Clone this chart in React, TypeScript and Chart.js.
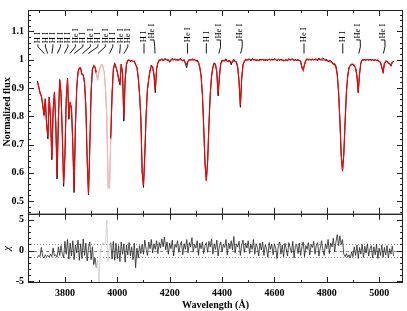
import React, { useEffect, useRef } from 'react';
import { Chart, registerables } from 'chart.js';
Chart.register(...registerables);

// Wavelength grid (Å)
const wave: number[] = [
  3695,3700,3705,3710,3715,3720,3725,3730,3735,3740,
  3745,3750,3755,3760,3765,3770,3775,3780,3785,3790,
  3795,3800,3805,3810,3815,3820,3825,3830,3835,3840,
  3845,3850,3855,3860,3865,3870,3875,3880,3885,3890,
  3895,3900,3905,3910,3915,3920,3925,3930,3935,3940,
  3945,3950,3955,3960,3965,3970,3975,3980,3985,3990,
  3995,4000,4005,4010,4015,4020,4025,4030,4035,4040,
  4045,4050,4055,4060,4065,4070,4075,4080,4085,4090,
  4095,4100,4105,4110,4115,4120,4125,4130,4135,4140,
  4145,4150,4155,4160,4165,4170,4175,4180,4185,4190,
  4195,4200,4205,4210,4215,4220,4225,4230,4235,4240,
  4245,4250,4255,4260,4265,4270,4275,4280,4285,4290,
  4295,4300,4305,4310,4315,4320,4325,4330,4335,4340,
  4345,4350,4355,4360,4365,4370,4375,4380,4385,4390,
  4395,4400,4405,4410,4415,4420,4425,4430,4435,4440,
  4445,4450,4455,4460,4465,4470,4475,4480,4485,4490,
  4495,4500,4505,4510,4515,4520,4525,4530,4535,4540,
  4545,4550,4555,4560,4565,4570,4575,4580,4585,4590,
  4595,4600,4605,4610,4615,4620,4625,4630,4635,4640,
  4645,4650,4655,4660,4665,4670,4675,4680,4685,4690,
  4695,4700,4705,4710,4715,4720,4725,4730,4735,4740,
  4745,4750,4755,4760,4765,4770,4775,4780,4785,4790,
  4795,4800,4805,4810,4815,4820,4825,4830,4835,4840,
  4845,4850,4855,4860,4865,4870,4875,4880,4885,4890,
  4895,4900,4905,4910,4915,4920,4925,4930,4935,4940,
  4945,4950,4955,4960,4965,4970,4975,4980,4985,4990,
  4995,5000,5005,5010,5015,5020,5025,5030,5035,5040,
  5045,5050,5055,
];

// Model (red) normalized flux
const modelFlux: number[] = [
  0.922,0.905,0.885,0.870,0.845,0.807,0.860,0.775,0.728,0.866,
  0.800,0.652,0.820,0.887,0.780,0.590,0.790,0.928,0.885,0.740,
  0.562,0.660,0.860,0.933,0.795,0.845,0.830,0.700,0.538,0.760,
  0.900,0.955,0.972,0.968,0.950,0.945,0.920,0.830,0.650,0.525,
  0.690,0.890,0.965,0.980,0.975,0.955,0.935,0.955,0.975,0.982,
  0.975,0.955,0.900,0.790,0.545,0.550,0.720,0.880,0.965,0.985,
  0.975,0.955,0.935,0.917,0.985,0.950,0.797,0.930,0.985,0.997,
  0.998,0.996,0.997,0.995,0.993,0.985,0.972,0.940,0.880,0.790,
  0.600,0.556,0.660,0.800,0.895,0.930,0.962,0.978,0.975,0.950,
  0.895,0.965,0.990,0.996,0.999,1.001,0.998,0.999,1.002,1.000,
  0.997,0.994,0.998,1.000,1.001,0.999,1.000,0.998,1.000,1.001,
  0.999,0.998,0.997,0.990,0.984,0.994,0.999,1.000,0.999,1.000,
  0.999,0.997,0.995,0.990,0.975,0.940,0.875,0.760,0.630,0.571,
  0.640,0.770,0.880,0.940,0.972,0.985,0.985,0.955,0.876,0.940,
  0.985,0.995,0.997,0.996,0.998,0.995,0.993,0.996,0.990,0.992,
  0.997,0.995,0.990,0.975,0.920,0.838,0.930,0.982,0.995,0.998,
  1.000,0.999,1.001,0.999,1.000,1.001,0.999,1.000,0.998,0.997,
  0.999,1.000,1.001,1.000,0.998,0.999,1.000,1.001,1.000,0.999,
  1.000,1.001,1.000,0.999,1.000,1.000,0.999,0.998,0.999,0.997,
  0.998,0.999,1.000,1.000,1.001,1.000,0.999,1.000,0.998,0.999,
  0.998,0.993,0.975,0.962,0.985,0.997,1.000,1.001,1.000,0.999,
  1.000,1.001,1.000,0.999,1.000,1.001,1.000,0.999,1.000,0.999,
  0.998,0.997,0.996,0.994,0.992,0.990,0.987,0.982,0.972,0.945,
  0.885,0.785,0.665,0.606,0.665,0.785,0.885,0.945,0.972,0.982,
  0.985,0.985,0.980,0.970,0.945,0.887,0.950,0.990,0.998,1.000,
  0.999,1.000,1.001,1.000,0.999,1.000,0.999,1.000,0.999,0.998,
  0.997,0.995,0.990,0.975,0.956,0.985,0.996,0.994,0.990,0.985,
  0.980,0.990,0.995,
];

// Observed (black) normalized flux
const obsFlux: number[] = [
  0.925,0.903,0.881,0.872,0.840,0.804,0.862,0.771,0.720,0.868,
  0.796,0.646,0.823,0.885,0.775,0.578,0.787,0.930,0.881,0.734,
  0.552,0.664,0.857,0.935,0.789,0.849,0.828,0.706,0.530,0.765,
  0.896,0.958,0.970,0.972,0.947,0.947,0.915,0.834,0.644,0.522,
  0.695,0.886,0.967,0.977,0.974,0.949,0.927,0.958,0.973,0.985,
  0.972,0.959,0.895,0.798,0.555,0.546,0.726,0.875,0.967,0.988,
  0.973,0.958,0.931,0.911,0.984,0.953,0.783,0.928,0.982,0.998,
  1.000,0.993,0.998,0.993,0.996,0.981,0.974,0.935,0.877,0.794,
  0.603,0.548,0.664,0.803,0.892,0.934,0.960,0.981,0.973,0.946,
  0.883,0.968,0.988,1.000,0.998,1.004,0.996,1.003,1.003,0.997,
  1.001,0.991,1.000,1.005,0.999,1.003,1.001,1.001,0.998,1.005,
  1.001,0.995,1.001,0.986,0.972,0.997,1.001,0.998,1.003,1.001,
  1.002,0.995,0.999,0.991,0.972,0.945,0.877,0.764,0.633,0.573,
  0.643,0.774,0.878,0.945,0.975,0.989,0.982,0.957,0.872,0.943,
  0.987,0.999,0.996,0.999,1.003,0.993,0.997,0.997,0.982,0.995,
  1.002,0.993,0.993,0.971,0.923,0.832,0.934,0.984,0.992,1.002,
  0.998,1.002,1.002,0.996,1.004,1.000,1.002,0.996,1.000,0.998,
  1.002,0.998,1.003,0.997,1.002,1.000,0.997,1.003,0.999,1.002,
  0.998,1.004,1.001,0.996,1.002,0.998,1.002,0.999,0.996,0.999,
  1.000,0.996,1.004,0.998,1.002,1.003,0.996,1.002,0.996,1.002,
  0.997,0.996,0.971,0.964,0.982,0.999,1.004,0.999,1.003,0.998,
  1.003,0.999,1.002,1.003,0.997,1.006,0.999,1.003,1.006,1.002,
  1.000,1.001,0.993,0.997,0.997,0.992,0.983,0.986,0.978,0.950,
  0.883,0.789,0.662,0.608,0.668,0.783,0.888,0.942,0.974,0.979,
  0.982,0.983,0.976,0.972,0.942,0.883,0.948,0.987,1.000,0.998,
  1.001,0.997,1.002,0.998,1.002,0.998,1.000,0.997,1.001,0.996,
  1.000,0.993,0.992,0.972,0.954,0.988,0.992,0.996,0.987,0.987,
  0.977,0.992,0.993,
];

// Residuals chi
const chi: number[] = [
  -1.1,-0.8,-1.0,0.5,-0.9,-1.2,-0.7,-1.0,-0.8,-1.1,
  -0.6,-1.0,0.4,-0.9,-0.7,-1.1,0.6,-0.8,0.8,-0.5,
  -1.2,1.5,-0.6,1.8,-1.4,1.2,-0.9,1.6,-1.5,0.9,
  -0.4,1.7,-1.6,1.1,-1.3,1.9,-0.8,1.2,-1.7,0.5,
  1.4,-1.5,0.6,-2.3,-1.2,-2.8,-1.5,-5.3,-0.2,0.6,
  1.3,0.9,1.2,5.0,-1.8,0.9,1.3,-1.4,1.5,-1.6,
  1.2,-1.3,0.8,-1.8,1.4,-0.6,1.1,-1.9,0.9,-0.7,
  1.3,-0.9,0.6,-1.5,1.2,-2.8,0.4,-1.2,0.8,-0.5,
  1.0,-0.6,1.7,0.2,-0.8,1.4,0.3,1.8,-0.4,1.1,
  0.2,1.6,-0.5,1.3,0.4,1.9,0.6,2.2,0.1,1.4,
  -0.6,1.2,0.3,1.7,-0.9,1.0,0.5,1.6,-0.3,0.9,
  1.5,-0.7,1.1,0.2,1.8,-0.4,1.3,0.6,2.1,-0.2,
  1.0,0.4,1.6,-0.8,1.2,0.3,1.4,-0.5,0.8,1.3,
  -0.3,1.5,0.6,1.9,-0.6,1.1,0.2,1.7,-0.9,0.8,
  1.4,-0.2,1.0,0.5,1.8,-0.7,1.2,0.3,1.6,0.1,
  2.3,-0.4,1.1,0.6,1.5,-0.8,0.9,1.7,-0.3,1.2,
  0.4,1.6,-0.5,1.0,0.2,1.8,-0.6,1.1,0.5,-0.9,
  1.2,0.1,1.4,-0.8,0.9,0.3,-1.1,1.3,0.2,1.0,
  -0.7,1.1,0.4,-1.3,0.8,1.4,-0.6,0.9,-1.0,1.2,
  0.3,-0.9,1.3,0.5,-0.4,1.5,-1.2,0.7,1.0,-0.5,
  1.2,-0.8,0.6,1.4,-1.0,0.8,0.2,1.3,-0.7,1.0,
  0.5,1.5,-0.6,0.9,1.3,-0.9,0.4,1.6,0.1,-0.8,
  1.1,0.3,1.8,-0.5,1.2,0.6,2.0,-0.2,1.4,2.6,
  0.8,2.4,1.0,1.8,-0.6,-1.0,-0.5,-1.1,-0.7,-1.2,
  -0.2,-1.0,0.6,-0.8,0.9,-1.3,0.5,-0.6,1.0,-1.1,
  0.7,-0.4,1.1,-0.9,0.3,0.8,-1.2,0.6,-0.7,1.0,
  -1.3,0.4,-0.8,0.9,-1.1,0.5,-0.7,0.8,-1.2,0.3,
  -0.6,0.7,-0.9,
];

// Masked (excluded) wavelength interval, drawn in light colours
const maskRange: number[] = [3920, 3975];

// Axis ticks
const xTicks: number[] = [3800, 4000, 4200, 4400, 4600, 4800, 5000];
const fluxTicks: number[] = [0.5, 0.6, 0.7, 0.8, 0.9, 1, 1.1];
const chiTicks: number[] = [-5, 0, 5];

// Line identifications
const lineWaves: number[] = [3721, 3734, 3750, 3771, 3798, 3819, 3835, 3867, 3889, 3926, 3970, 4009, 4026,
  4102, 4144, 4268, 4340, 4388, 4471, 4713, 4861, 4922, 5016];
const lineNames: string[] = ['H I', 'H I', 'H I', 'H I', 'H I', 'He I', 'H I', 'He I', 'H I', 'He I', 'H I', 'He I', 'He I',
  'H I', 'He I', 'He I', 'H I', 'He I', 'He I', 'He I', 'H I', 'He I', 'He I'];
const crowdedCount = 13;
const blendedLines: number[] = [4144, 4388, 4471, 4922, 5016];

const SERIF = '"Liberation Serif", "Times New Roman", serif';
const inMask = (a: number, b: number) => a >= maskRange[0] && b <= maskRange[1];

const panelPlugin = {
  id: 'panelPlugin',
  beforeDatasetsDraw(chart: any) {
    const { ctx, chartArea } = chart;
    const y2 = chart.scales.y2;
    ctx.save();
    ctx.strokeStyle = '#8a8a8a';
    ctx.lineWidth = 1;
    ctx.setLineDash([1, 2]);
    for (const v of [1, -1]) {
      const py = Math.round(y2.getPixelForValue(v)) + 0.5;
      ctx.beginPath(); ctx.moveTo(chartArea.left, py); ctx.lineTo(chartArea.right, py); ctx.stroke();
    }
    ctx.setLineDash([3, 3]);
    const p0 = Math.round(y2.getPixelForValue(0)) + 0.5;
    ctx.beginPath(); ctx.moveTo(chartArea.left, p0); ctx.lineTo(chartArea.right, p0); ctx.stroke();
    ctx.restore();
  },
  afterDatasetsDraw(chart: any) {
    const { ctx, chartArea } = chart;
    const x = chart.scales.x, y = chart.scales.y, y2 = chart.scales.y2;
    const L = chartArea.left, R = chartArea.right;
    ctx.save();
    ctx.strokeStyle = '#222';
    ctx.lineWidth = 1;
    // frames
    ctx.strokeRect(L + 0.5, y.top + 0.5, R - L - 1, y.bottom - y.top);
    ctx.strokeRect(L + 0.5, y2.top + 0.5, R - L - 1, y2.bottom - y2.top - 1);
    // x ticks
    const xt = (v: number, len: number) => {
      const px = Math.round(x.getPixelForValue(v)) + 0.5;
      ctx.beginPath();
      ctx.moveTo(px, y.top); ctx.lineTo(px, y.top + len);
      ctx.moveTo(px, y.bottom); ctx.lineTo(px, y.bottom - len);
      ctx.moveTo(px, y2.top); ctx.lineTo(px, y2.top + len);
      ctx.moveTo(px, y2.bottom); ctx.lineTo(px, y2.bottom - len);
      ctx.stroke();
    };
    for (let k = 37; k <= 50; k++) xt(k * 100, k % 2 === 0 ? 6 : 3);
    // y ticks
    const yt = (sc: any, v: number, len: number) => {
      const py = Math.round(sc.getPixelForValue(v)) + 0.5;
      ctx.beginPath();
      ctx.moveTo(L, py); ctx.lineTo(L + len, py);
      ctx.moveTo(R, py); ctx.lineTo(R - len, py);
      ctx.stroke();
    };
    for (let k = 23; k <= 58; k++) yt(y, k * 0.02, k % 5 === 0 ? 6 : 3);
    for (let k = -5; k <= 5; k++) yt(y2, k, k % 5 === 0 ? 6 : 3);
    // line labels
    ctx.strokeStyle = '#000';
    ctx.fillStyle = '#000';
    ctx.lineWidth = 0.9;
    ctx.font = '8.5px ' + SERIF;
    ctx.textAlign = 'left';
    ctx.textBaseline = 'middle';
    const yLine = y.getPixelForValue(1.022);
    const first = x.getPixelForValue(3697), last = x.getPixelForValue(4040);
    lineWaves.forEach((w, i) => {
      const lx = x.getPixelForValue(w);
      let tx = lx;
      let yText: number;
      ctx.beginPath();
      if (i < crowdedCount) {
        tx = first + ((last - first) * i) / (crowdedCount - 1);
        const yJoin = y.getPixelForValue(1.046);
        yText = y.getPixelForValue(1.058);
        ctx.moveTo(lx, yLine); ctx.lineTo(tx, yJoin); ctx.lineTo(tx, yText + 1);
      } else if (blendedLines.includes(w)) {
        tx = lx + (w === 4144 ? -3 : -0.5);
        const yTop = y.getPixelForValue(1.07);
        yText = y.getPixelForValue(1.075);
        ctx.moveTo(tx - 2, yTop); ctx.lineTo(tx + 2, yTop);
        ctx.quadraticCurveTo(tx + 3, y.getPixelForValue(1.045), lx, yLine);
      } else {
        yText = y.getPixelForValue(1.062);
        ctx.moveTo(lx, yLine); ctx.lineTo(lx, y.getPixelForValue(1.058));
      }
      ctx.stroke();
      ctx.save();
      ctx.translate(tx, yText);
      ctx.rotate(-Math.PI / 2);
      ctx.fillText(lineNames[i], 0, 0);
      ctx.restore();
    });
    ctx.restore();
  },
};

export default function App() {
  const ref = useRef<HTMLCanvasElement>(null);
  useEffect(() => {
    if (!ref.current) return;
    const tickFont = { family: SERIF, weight: 'bold' as const, size: 10 };
    const chart = new Chart(ref.current, {
      type: 'line',
      data: {
        datasets: [
          {
            label: 'model',
            data: wave.map((w, i) => ({ x: w, y: modelFlux[i] })),
            yAxisID: 'y',
            borderColor: '#ff0000',
            borderWidth: 1.1,
            pointRadius: 0,
            tension: 0,
            segment: { borderColor: (c: any) => (inMask(c.p0.parsed.x, c.p1.parsed.x) ? '#ffb3b3' : '#ff0000') },
          },
          {
            label: 'observed',
            data: wave.map((w, i) => ({ x: w, y: obsFlux[i] })),
            yAxisID: 'y',
            borderColor: '#111',
            borderWidth: 1,
            pointRadius: 0,
            tension: 0,
            segment: { borderColor: (c: any) => (inMask(c.p0.parsed.x, c.p1.parsed.x) ? '#b0b0b0' : '#111') },
          },
          {
            label: 'chi',
            data: wave.map((w, i) => ({ x: w, y: chi[i] })),
            yAxisID: 'y2',
            borderColor: '#1a1a1a',
            borderWidth: 0.75,
            pointRadius: 0,
            tension: 0,
            segment: { borderColor: (c: any) => (inMask(c.p0.parsed.x, c.p1.parsed.x) ? '#c8c8c8' : '#1a1a1a') },
          },
        ],
      },
      options: {
        animation: false,
        responsive: false,
        maintainAspectRatio: false,
        devicePixelRatio: 1,
        layout: { padding: { top: 3, right: 4, left: 0, bottom: 0 } },
        plugins: { legend: { display: false }, tooltip: { enabled: false } },
        scales: {
          x: {
            type: 'linear',
            min: 3659,
            max: 5091,
            position: 'bottom',
            afterBuildTicks: (s: any) => { s.ticks = xTicks.map((v) => ({ value: v })); },
            afterFit: (s: any) => { s.height = 28; },
            grid: { display: false, drawTicks: false },
            border: { display: false },
            ticks: { font: tickFont, color: '#000', padding: 4, maxRotation: 0, autoSkip: false, callback: (v: any) => String(v) },
            title: { display: true, text: 'Wavelength (Å)', font: tickFont, color: '#000', padding: { top: 0, bottom: 0 } },
          },
          y2: {
            type: 'linear',
            min: -5.3,
            max: 6,
            position: 'left',
            stack: 'panels',
            stackWeight: 71,
            afterBuildTicks: (s: any) => { s.ticks = chiTicks.map((v) => ({ value: v })); },
            afterFit: (s: any) => { s.width = 28; },
            grid: { display: false, drawTicks: false },
            border: { display: false },
            ticks: { font: tickFont, color: '#000', padding: 4, autoSkip: false, callback: (v: any) => String(v) },
            title: { display: true, text: 'χ', font: { family: SERIF, style: 'italic' as const, size: 11 }, color: '#000', padding: { top: 1, bottom: 0 } },
          },
          y: {
            type: 'linear',
            min: 0.455,
            max: 1.176,
            position: 'left',
            stack: 'panels',
            stackWeight: 209,
            afterBuildTicks: (s: any) => { s.ticks = fluxTicks.map((v) => ({ value: v })); },
            afterFit: (s: any) => { s.width = 28; },
            grid: { display: false, drawTicks: false },
            border: { display: false },
            ticks: { font: tickFont, color: '#000', padding: 4, autoSkip: false, callback: (v: any) => String(v) },
            title: { display: true, text: 'Normalized flux', font: tickFont, color: '#000', padding: { top: 1, bottom: 0 } },
          },
        },
      } as any,
      plugins: [panelPlugin],
    });
    return () => chart.destroy();
  }, []);
  return (
    <div style={{ position: 'fixed', left: 0, top: 0, width: 407, height: 311, background: '#fff' }}>
      <canvas ref={ref} width={407} height={311} style={{ display: 'block' }} />
    </div>
  );
}
